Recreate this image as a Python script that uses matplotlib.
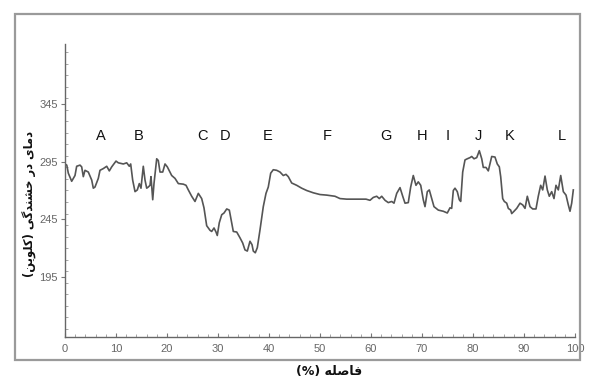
import matplotlib
matplotlib.use("Agg")
import matplotlib.pyplot as plt
from matplotlib.patches import Rectangle
from matplotlib.ticker import MultipleLocator

# distance (%) and brightness temperature (K)
distance = [0.0, 0.35, 0.65, 1.31, 1.96, 2.29, 2.94, 3.27, 3.59, 3.92, 4.57, 5.24, 5.55, 5.88,
            6.53, 6.86, 7.51, 8.18, 8.69, 9.16, 10.0, 10.45, 11.43, 12.1, 12.61, 12.88, 13.27,
            13.73, 14.18, 14.57, 14.9, 15.35, 15.69, 16.02, 16.33, 16.67, 16.86, 17.06, 17.2,
            17.45, 17.98, 18.29, 18.63, 19.16, 19.61, 20.06, 20.92, 21.57, 22.22, 23.2, 23.73,
            24.18, 24.84, 25.49, 26.14, 26.8, 27.25, 27.78, 28.43, 28.76, 29.22, 29.61, 29.86,
            30.25, 30.73, 31.18, 31.71, 32.22, 32.69, 33.0, 33.67, 34.31, 34.84, 35.29, 35.75,
            36.27, 36.67, 36.92, 37.31, 37.71, 38.24, 38.88, 39.41, 39.86, 40.33, 40.84, 41.51,
            42.16, 42.8, 43.33, 43.78, 44.45, 45.43, 46.41, 47.39, 48.69, 50.0, 51.31, 52.94,
            53.92, 55.24, 59.02, 59.8, 60.45, 61.12, 61.63, 62.1, 62.75, 63.39, 64.06, 64.51,
            65.04, 65.69, 66.22, 66.67, 67.31, 67.78, 68.29, 68.82, 69.27, 69.75, 70.25, 70.59,
            71.04, 71.43, 71.9, 72.35, 73.2, 74.18, 74.96, 75.49, 75.82, 76.14, 76.47, 76.92,
            77.31, 77.59, 77.98, 78.43, 78.88, 79.41, 79.75, 80.2, 80.73, 81.24, 81.71, 82.02,
            82.55, 83.0, 83.33, 83.67, 84.31, 84.76, 85.16, 85.43, 85.82, 86.14, 86.61, 86.92,
            87.39, 87.59, 88.04, 88.57, 89.22, 89.75, 90.2, 90.65, 91.18, 91.71, 92.35, 92.8,
            93.27, 93.67, 94.12, 94.57, 94.96, 95.43, 95.88, 96.27, 96.73, 97.2, 97.71, 98.24,
            98.69, 99.02, 99.35, 99.67]
temperature = [293, 292, 285, 278, 283, 291, 292, 290.5, 282, 287.5, 286, 279, 272, 273,
               280.5, 287.5, 289, 291, 287, 290.5, 295.5, 294, 293, 294, 291, 293, 279,
               269, 270.5, 276, 272, 291, 279, 272, 273, 274.5, 282, 270.5, 262,
               276, 297.5, 296, 286, 286, 293, 290.5, 283, 280.5, 276, 275.5, 274.5,
               270.5, 265, 260.5, 267.5, 263, 255, 239.5, 235.5, 234.5, 237.5, 234, 231,
               242, 249, 250.5, 254, 253, 242, 234.5, 234, 229, 224.5, 218.5, 217.5,
               226, 223, 217.5, 216, 220.5, 236, 256, 267.5, 273, 285, 288, 287.5,
               286, 283, 284, 282, 276.5, 274.5, 272, 270, 268, 266.5, 266, 265,
               263, 262.5, 262.5, 261.5, 264, 265, 263, 265, 261.5, 259.5, 260.5, 259,
               267.5, 272.5, 265, 259, 259.5, 273, 283, 274.5, 277.5, 274.5, 262, 256,
               269, 270.5, 263, 256, 253, 252, 250.5, 255, 254.5, 270, 272, 269,
               262, 260.5, 286, 296.5, 297.5, 298.5, 299.5, 297.5, 298.5, 304.5, 297.5, 290,
               290, 287, 293, 299.5, 299, 293, 290.5, 282, 263, 260.5, 259, 254.5,
               253, 250, 252, 254.5, 259, 257.5, 254.5, 265, 256, 254, 254, 265,
               274.5, 270.5, 282.5, 270.5, 265, 269, 263, 274.5, 270.5, 283, 269, 266,
               257.5, 252, 259, 270.5]

segment_labels = ["A", "B", "C", "D", "E", "F", "G", "H", "I", "J", "K", "L"]
segment_x = [7.0, 14.5, 27.0, 31.4, 39.7, 51.4, 63.0, 70.0, 75.1, 81.1, 87.1, 97.4]
segment_y = 317

x_ticks = [0, 10, 20, 30, 40, 50, 60, 70, 80, 90, 100]
y_ticks = [195, 245, 295, 345]

# Persian labels (presentation forms, visual order)
x_label = "(%) \uFEEA\uFEE0\uFEBB\uFE8E\uFED3"          # فاصله (%)
y_label = ("(\uFEE6\uFBFE\uFEEE\uFEE0\uFB90) "
           "\uFBFD\uFB94\uFEAA\uFEE8\uFEB8\uFEA7 "
           "\uFEAD\uFEA9 "
           "\uFBFC\uFE8E\uFEE3\uFEA9")                    # دمای در خشندگی (کلوین)

W, H = 589, 383
fig = plt.figure(figsize=(W / 100, H / 100), dpi=100)
fig.patch.set_facecolor("white")

# outer frame
fig.patches.append(Rectangle((15 / W, 1 - 360 / H), (580 - 15) / W, (360 - 14) / H,
                             transform=fig.transFigure, fill=False,
                             edgecolor="#9a9a9a", linewidth=1.6))

ax = fig.add_axes([65 / W, 1 - 337 / H, (575 - 65) / W, (337 - 44) / H])
ax.plot(distance, temperature, color="#555555", linewidth=1.2)

ax.set_xlim(0, 100)
ax.set_ylim(143, 397)
ax.set_xticks(x_ticks)
ax.set_yticks(y_ticks)
ax.xaxis.set_minor_locator(MultipleLocator(2))
ax.yaxis.set_minor_locator(MultipleLocator(10))

for s in ["top", "right"]:
    ax.spines[s].set_visible(False)
for s in ["left", "bottom"]:
    ax.spines[s].set_color("#666666")
    ax.spines[s].set_linewidth(1.0)

tick_font = ["Liberation Sans Narrow", "Liberation Sans", "DejaVu Sans"]
ax.tick_params(axis="x", which="major", direction="in", length=3, color="#777777",
               labelsize=8, labelcolor="#666666", pad=5)
ax.tick_params(axis="x", which="minor", direction="in", length=2, color="#999999")
ax.tick_params(axis="y", which="major", direction="out", length=3, color="#777777",
               labelsize=8, labelcolor="#666666", pad=2)
ax.tick_params(axis="y", which="minor", direction="in", length=2, color="#999999")
for lab in ax.get_xticklabels() + ax.get_yticklabels():
    lab.set_family(tick_font)

for lab, xv in zip(segment_labels, segment_x):
    ax.text(xv, segment_y, lab, ha="center", va="center", fontsize=10.5,
            family=["Liberation Sans", "DejaVu Sans"], color="#111111")

fig.text(329 / W, 1 - 372 / H, x_label, ha="center", va="center", fontsize=9,
         fontweight="bold", family=["DejaVu Sans"], color="#111111")
fig.text(30 / W, 1 - 204 / H, y_label, ha="center", va="center", rotation=90,
         fontsize=8.3, fontweight="bold", family=["DejaVu Sans"], color="#111111")

fig.savefig("out.png", dpi=100)
